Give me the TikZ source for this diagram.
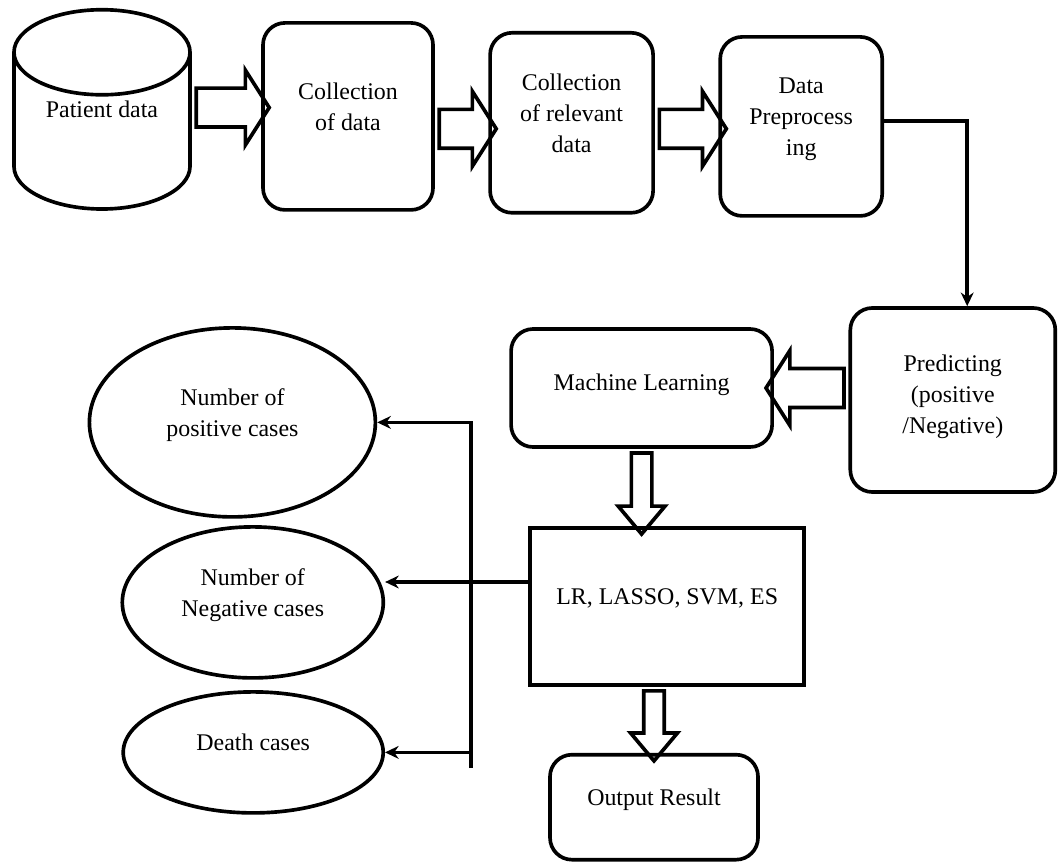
\documentclass[tikz,border=0pt]{standalone}
\usepackage{fontspec}
\setmainfont{Liberation Serif}
\usetikzlibrary{shapes,arrows.meta}

\begin{document}
\begin{tikzpicture}[>={Stealth[length=0.34cm,width=0.32cm]}, node distance=6cm, line width=2.6pt]
    % Styles
    \tikzstyle{txt} = [font=\fontsize{17}{22}\selectfont, align=center, text depth=0.5cm]
    \tikzstyle{store} = [cylinder, draw, shape border rotate=90, aspect=0.7, minimum width=4.4cm, minimum height=4.975cm, txt, text depth=1.44cm]
    \tikzstyle{proc} = [rectangle, draw, rounded corners=0.55cm, txt]
    \tikzstyle{algo} = [rectangle, draw, txt]
    \tikzstyle{result} = [ellipse, draw, txt]
    \tikzstyle{blk} = [single arrow, draw, sloped, allow upside down, inner xsep=0pt, inner ysep=0.44cm, single arrow head extend=0.45cm, single arrow tip angle=115]
    \tikzstyle{blkv} = [blk, inner ysep=0.21cm, single arrow head extend=0.33cm, single arrow tip angle=80]

    \useasboundingbox (0,0) rectangle (26.45,-21.575);

    % Nodes
    \node[store] (patient) at (2.55,-3.46) {Patient data};
    \node[proc, minimum width=4.25cm, minimum height=4.675cm] (collect) [right of=patient, xshift=0.15cm, yshift=0.55cm] {Collection\\of data};
    \node[proc, minimum width=4.075cm, minimum height=4.5cm] (relevant) [right of=collect, xshift=-0.41cm, yshift=-0.16cm] {Collection\\of relevant\\data};
    \node[proc, minimum width=4.05cm, minimum height=4.475cm] (prep) [right of=relevant, xshift=-0.26cm, yshift=-0.09cm] {Data\\Preprocess\\ing};

    \node[proc, minimum width=5.125cm, minimum height=4.6cm, text depth=0.3cm] (predict) [below of=prep, xshift=3.79cm, yshift=-0.84cm] {Predicting\\(positive\\/Negative)};
    \node[proc, minimum width=6.525cm, minimum height=2.95cm, text depth=0.3cm] (learn) [left of=predict, xshift=-1.78cm, yshift=0.3cm] {Machine Learning};
    \node[algo, minimum width=6.85cm, minimum height=3.925cm] (models) [below of=learn, xshift=0.64cm, yshift=0.54cm] {LR, LASSO, SVM, ES};
    \node[proc, minimum width=5.2cm, minimum height=2.625cm] (output) [below of=models, xshift=-0.33cm, yshift=0.98cm] {Output Result};

    \node[result, minimum width=6.525cm, minimum height=3.775cm] (negative) [left of=models, xshift=-4.36cm, yshift=0.1cm] {Number of\\Negative cases};
    \node[result, minimum width=7.15cm, minimum height=4.725cm] (positive) [above of=negative, xshift=-0.51cm, yshift=-1.5cm] {Number of\\positive cases};
    \node[result, minimum width=6.5cm, minimum height=3.025cm] (death) [below of=negative, xshift=0.01cm, yshift=2.25cm] {Death cases};

    \coordinate (bus) at (11.775,-14.55);
    \coordinate (tail) at (11.775,-19.2);

    % Block arrows
    \path ([yshift=0.77cm]patient.east) -- node[blk, minimum height=1.825cm] {} ([yshift=0.77cm]patient.east -| collect.west);
    \path ([yshift=-0.15cm]collect.east |- relevant.west) -- node[blk, minimum height=1.425cm] {} ([yshift=-0.15cm]relevant.west);
    \path ([yshift=-0.15cm]relevant.east) -- node[blk, minimum height=1.675cm] {} ([yshift=-0.15cm]relevant.east -| prep.west);
    \path (predict.west |- learn.east) -- node[blk, minimum height=1.95cm] {} (learn.east);
    \path (learn.south) -- node[blkv, minimum height=2.025cm] {} (learn.south |- models.north);
    \path (output.north |- models.south) -- node[blkv, minimum height=1.75cm] {} (output.north);

    % Arrows
    \draw[->] ([yshift=0.14cm]prep.east) -| ([xshift=0.36cm]predict.north);
    \draw[->] (models.west |- bus) -- (bus -| negative.east);
    \draw[->] (tail) -- (bus |- positive.east) -- (positive.east);
    \draw[->] (bus |- death.east) -- (death.east);

\end{tikzpicture}
\end{document}
